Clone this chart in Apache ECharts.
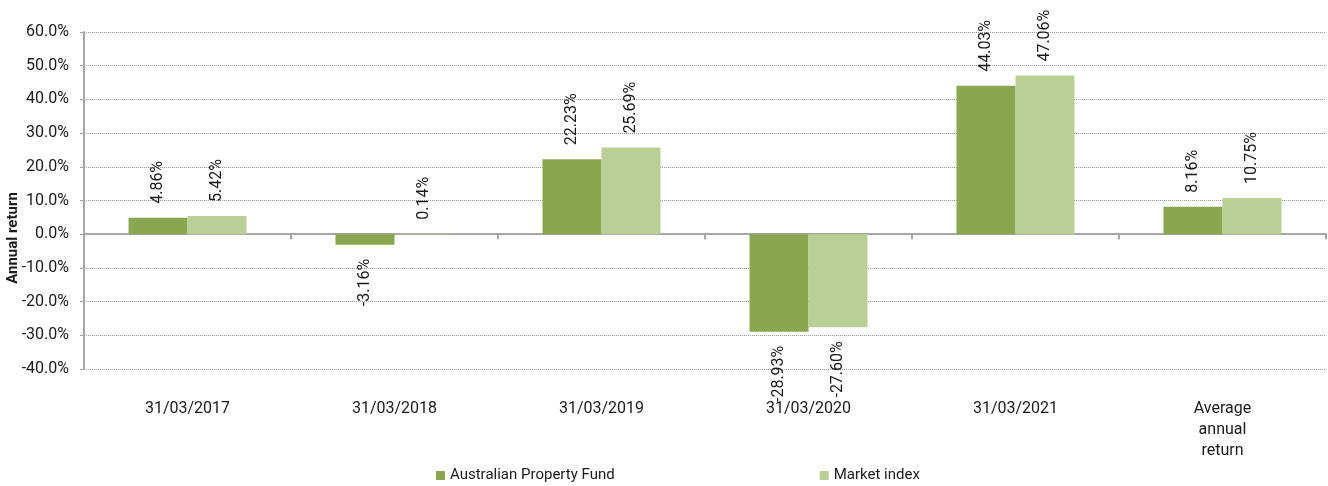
<!DOCTYPE html>
<html>
<head>
<meta charset="utf-8">
<script src="https://cdn.jsdelivr.net/npm/echarts@6/dist/echarts.min.js"></script>
<style>
  html, body { margin: 0; padding: 0; background: #fff; }
  #chart { width: 1328px; height: 486px; }
</style>
</head>
<body>
<div id="chart"></div>
<script>
// data
var categories = ['31/03/2017', '31/03/2018', '31/03/2019', '31/03/2020', '31/03/2021', 'Average\nannual\nreturn'];
var fundValues = [4.86, -3.16, 22.23, -28.93, 44.03, 8.16];
var indexValues = [5.42, 0.14, 25.69, -27.60, 47.06, 10.75];
var seriesNames = ['Australian Property Fund', 'Market index'];

var darkGreen = '#8aa64f';
var lightGreen = '#b9cf96';
var fontFamily = 'Roboto, sans-serif';

// negative bars get their label underneath
function toItems(values) {
  return values.map(function (v) {
    if (v < 0) {
      return { value: v, label: { position: 'bottom', align: 'right' } };
    }
    return v;
  });
}

var barLabel = {
  show: true,
  position: 'top',
  rotate: 90,
  align: 'left',
  verticalAlign: 'middle',
  distance: 14,
  color: '#1a1a1a',
  fontSize: 16,
  fontFamily: fontFamily,
  formatter: function (p) { return p.value.toFixed(2) + '%'; }
};

var chart = echarts.init(document.getElementById('chart'));
chart.setOption({
  animation: false,
  grid: { left: 84, right: 2, top: 32, bottom: 117 },
  legend: {
    left: 436,
    top: 468,
    padding: 0,
    itemWidth: 9,
    itemHeight: 9,
    itemGap: 205,
    icon: 'rect',
    textStyle: { color: '#1a1a1a', fontSize: 15, fontFamily: fontFamily },
    data: seriesNames
  },
  xAxis: [
    {
      // axis line through zero, no labels
      type: 'category',
      data: categories,
      axisLine: { onZero: true, lineStyle: { color: '#a6a6a6', width: 2 } },
      axisTick: { show: true, length: 5, lineStyle: { color: '#a6a6a6', width: 2 } },
      axisLabel: { show: false },
      splitLine: { show: false }
    },
    {
      // labels at the bottom of the plot
      type: 'category',
      position: 'bottom',
      data: categories,
      axisLine: { show: false, onZero: false },
      axisTick: { show: false },
      axisLabel: {
        margin: 29,
        color: '#1a1a1a',
        fontSize: 16,
        lineHeight: 21,
        fontFamily: fontFamily
      }
    }
  ],
  yAxis: {
    type: 'value',
    min: -40,
    max: 60,
    interval: 10,
    axisLine: { show: true, lineStyle: { color: '#a6a6a6', width: 2 } },
    axisTick: { show: true, length: 4, lineStyle: { color: '#a6a6a6' } },
    axisLabel: {
      margin: 15,
      color: '#1a1a1a',
      fontSize: 16,
      fontFamily: fontFamily,
      formatter: function (v) { return v.toFixed(1) + '%'; }
    },
    splitLine: { show: true, lineStyle: { color: '#999', type: 'dotted', width: 1 } }
  },
  graphic: [{
    type: 'text',
    x: 13,
    y: 238,
    rotation: Math.PI / 2,
    style: {
      text: 'Annual return',
      fill: '#1a1a1a',
      font: 'bold 15px ' + fontFamily,
      align: 'center',
      verticalAlign: 'middle'
    }
  }],
  series: [
    {
      name: seriesNames[0],
      type: 'bar',
      xAxisIndex: 0,
      data: toItems(fundValues),
      itemStyle: { color: darkGreen },
      barGap: '0%',
      barCategoryGap: '43%',
      label: barLabel
    },
    {
      name: seriesNames[1],
      type: 'bar',
      xAxisIndex: 0,
      data: toItems(indexValues),
      itemStyle: { color: lightGreen },
      label: barLabel
    }
  ]
});
</script>
</body>
</html>
